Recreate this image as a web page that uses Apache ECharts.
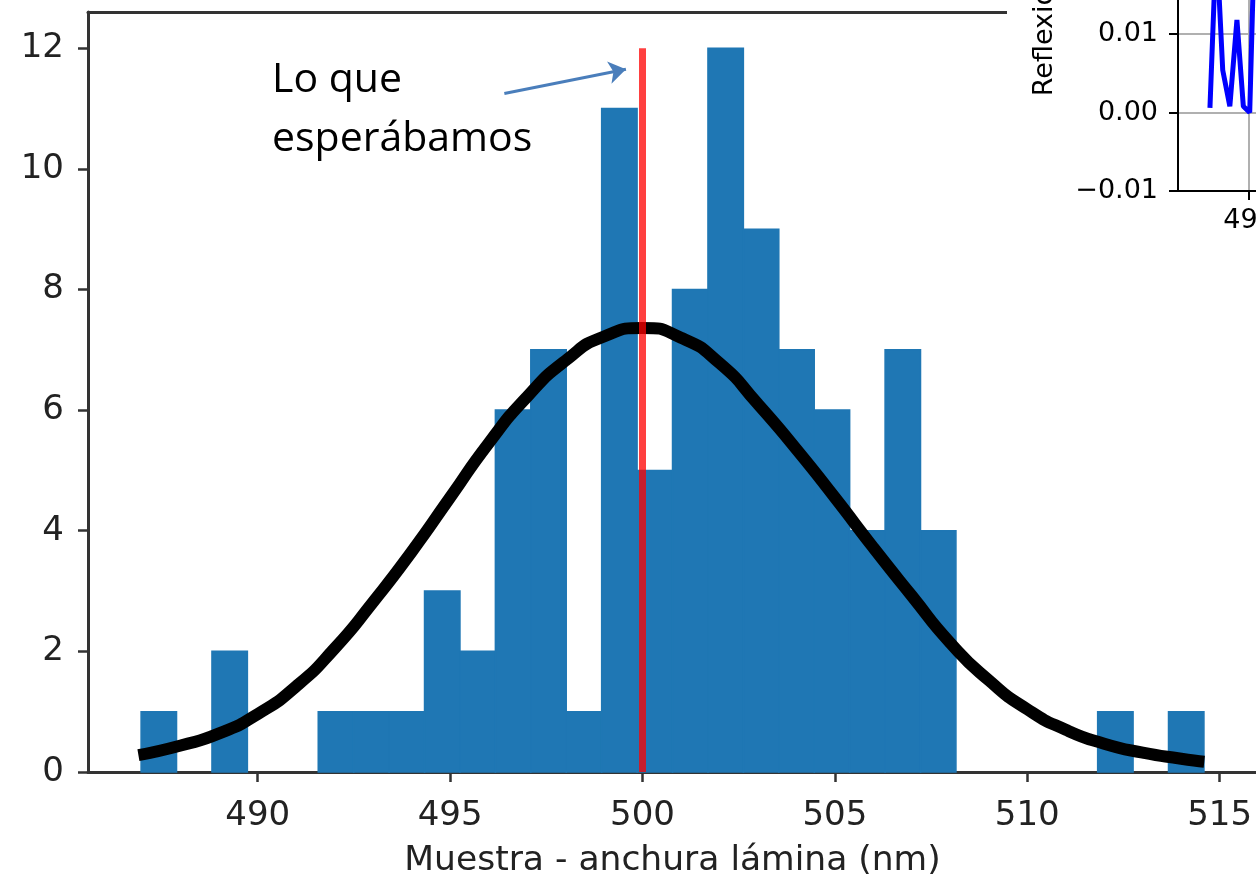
<!DOCTYPE html>
<html>
<head>
<meta charset="utf-8">
<script src="https://cdn.jsdelivr.net/npm/echarts@6/dist/echarts.min.js"></script>
<style>
  html, body { margin: 0; padding: 0; background: #fff; }
  #chart { width: 1256px; height: 880px; }
</style>
</head>
<body>
<div id="chart"></div>
<script>
// histograma: 30 bins
const binStart = 486.97
const binWidth = 0.9207
const counts = [1, 0, 2, 0, 0, 1, 1, 1, 3, 2, 6, 7, 1, 11, 5, 8, 12, 9, 7, 6, 4, 7, 4, 0, 0, 0, 0, 1, 0, 1]

// curva ajustada
const curveX = [486.9, 488, 489, 490, 491, 492, 493, 494, 495, 496, 497, 498, 499, 500, 501, 502, 503, 504, 505, 506, 507, 508, 509, 510, 511, 512, 513, 514, 514.6]
const curveY = [0.28, 0.44, 0.64, 0.96, 1.42, 2.05, 2.82, 3.65, 4.55, 5.45, 6.22, 6.82, 7.22, 7.36, 7.2, 6.78, 6.1, 5.35, 4.55, 3.72, 2.92, 2.14, 1.52, 1.04, 0.7, 0.47, 0.32, 0.22, 0.17]

const xTicks = [490, 495, 500, 505, 510, 515]
const yTicks = [0, 2, 4, 6, 8, 10, 12]

// valor esperado + flecha
const expected = 500
const expectedTop = 12
const arrowFrom = [496.41, 11.25]
const arrowTo = [499.57, 11.65]

// grafico pequeño (reflexion)
const insetX = [484.5, 485.4, 486.3, 487.3, 488.3, 489.2, 490.1, 491.0]
const insetY = [0.0006, 0.022, 0.0054, 0.0008, 0.0118, 0.0008, 0.0, 0.03]
const insetXTicks = [490]
const insetYTicks = [-0.01, 0, 0.01, 0.02]

const histData = counts.map((c, i) => [binStart + i * binWidth, binStart + (i + 1) * binWidth, c])
const curveData = curveX.map((x, i) => [x, curveY[i]])
const insetData = insetX.map((x, i) => [x, insetY[i]])

const axisColor = '#333'
const labelFont = 'DejaVu Sans'

const option = {
  animation: false,
  grid: [
    { left: 88, top: 12, width: 1169, height: 760, outerBoundsMode: 'none' },
    { left: 1178, top: -123, width: 142, height: 314, z: 10, outerBoundsMode: 'none' }
  ],
  xAxis: [
    {
      type: 'value', gridIndex: 0, min: 485.59, max: 515.97,
      name: 'Muestra - anchura lámina (nm)',
      nameLocation: 'middle', nameGap: 72,
      nameTextStyle: { fontFamily: labelFont, fontSize: 34.5, color: '#222' },
      axisLine: { onZero: false, lineStyle: { color: axisColor, width: 3 } },
      axisTick: { customValues: xTicks, length: 10, lineStyle: { color: axisColor, width: 2.5 } },
      axisLabel: { customValues: xTicks, margin: 27, fontFamily: labelFont, fontSize: 34, color: '#222' },
      splitLine: { show: false }
    },
    {
      type: 'value', gridIndex: 1, min: 480, max: 500, interval: 10, z: 10,
      axisLine: { onZero: false, lineStyle: { color: '#000', width: 2 } },
      axisTick: { customValues: insetXTicks, length: 9, lineStyle: { color: '#000', width: 2 } },
      axisLabel: { customValues: insetXTicks, margin: 16, fontFamily: labelFont, fontSize: 27, color: '#000' },
      splitLine: { show: true, lineStyle: { color: '#b0b0b0', width: 2 } }
    },
    {
      // borde superior del grafico principal
      type: 'value', gridIndex: 0, position: 'top', min: 485.59, max: 515.97,
      axisLine: { show: true, onZero: false, lineStyle: { color: axisColor, width: 3 } },
      axisTick: { show: false }, axisLabel: { show: false }, splitLine: { show: false }
    }
  ],
  yAxis: [
    {
      type: 'value', gridIndex: 0, min: 0, max: 12.6,
      axisLine: { show: true, onZero: false, lineStyle: { color: axisColor, width: 3 } },
      axisTick: { show: true, customValues: yTicks, length: 10, lineStyle: { color: axisColor, width: 2.5 } },
      axisLabel: { customValues: yTicks, margin: 24, fontFamily: labelFont, fontSize: 34, color: '#222' },
      splitLine: { show: false }
    },
    {
      type: 'value', gridIndex: 1, min: -0.01, max: 0.03, interval: 0.01, z: 10,
      name: 'Reflexión', nameLocation: 'middle', nameGap: 120,
      nameTextStyle: { fontFamily: labelFont, fontSize: 27, color: '#000' },
      axisLine: { show: true, onZero: false, lineStyle: { color: '#000', width: 2 } },
      axisTick: { show: true, customValues: insetYTicks, length: 9, lineStyle: { color: '#000', width: 2 } },
      axisLabel: {
        customValues: insetYTicks, margin: 20, fontFamily: labelFont, fontSize: 27, color: '#000',
        formatter: v => (v < 0 ? '\u2212' : '') + Math.abs(v).toFixed(2)
      },
      splitLine: { show: true, lineStyle: { color: '#b0b0b0', width: 2 } }
    }
  ],
  graphic: [
    // fondo blanco del grafico pequeño
    { type: 'rect', z: 5, shape: { x: 1007, y: 0, width: 260, height: 270 }, style: { fill: '#fff' } },
    {
      type: 'text', left: 272, top: 51, z: 20,
      style: { text: 'Lo que\nesperábamos', font: '41px "Open Sans"', lineHeight: 59, fill: '#000' }
    }
  ],
  series: [
    {
      type: 'custom', xAxisIndex: 0, yAxisIndex: 0, z: 2,
      data: histData,
      encode: { x: [0, 1], y: 2 },
      renderItem: function (params, api) {
        const c = api.value(2)
        if (!c) return null
        const p0 = api.coord([api.value(0), c])
        const p1 = api.coord([api.value(1), 0])
        return {
          type: 'rect',
          shape: { x: p0[0], y: p0[1], width: p1[0] - p0[0], height: p1[1] - p0[1] },
          style: { fill: '#1f77b4', stroke: '#1f77b4', lineWidth: 1.5 }
        }
      }
    },
    {
      type: 'line', xAxisIndex: 0, yAxisIndex: 0, z: 3,
      data: curveData, smooth: 0.6, showSymbol: false,
      lineStyle: { color: '#000', width: 12 },
      markLine: {
        silent: true, symbol: ['none', 'arrow'], symbolSize: 17,
        label: { show: false },
        lineStyle: { color: '#4a7ebb', width: 3, type: 'solid' },
        data: [[{ coord: arrowFrom }, { coord: arrowTo }]]
      }
    },
    {
      type: 'line', xAxisIndex: 0, yAxisIndex: 0, z: 4,
      data: [], showSymbol: false,
      markLine: {
        silent: true, symbol: ['none', 'none'],
        label: { show: false },
        lineStyle: { color: 'rgba(255,0,0,0.75)', width: 7, type: 'solid' },
        data: [[{ coord: [expected, 0] }, { coord: [expected, expectedTop] }]]
      }
    },
    {
      type: 'line', xAxisIndex: 1, yAxisIndex: 1, z: 10,
      data: insetData, showSymbol: false,
      lineStyle: { color: '#0000ff', width: 5 }
    }
  ]
}

const myChart = echarts.init(document.getElementById('chart'))
myChart.setOption(option)
</script>
</body>
</html>
